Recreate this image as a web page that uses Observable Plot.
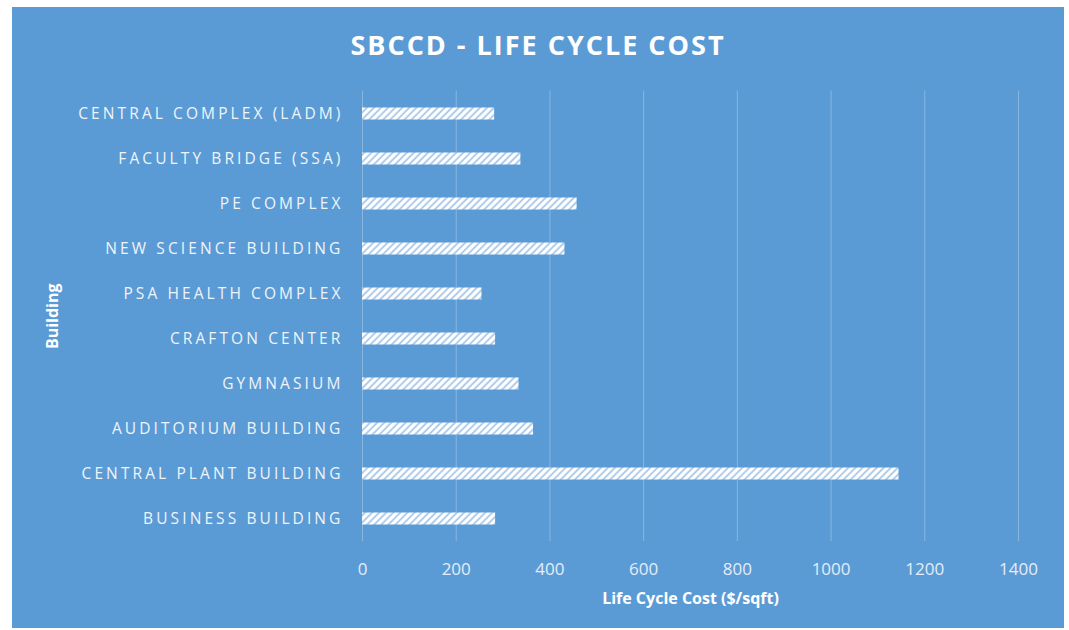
<!DOCTYPE html>
<html>
<head>
<meta charset="utf-8">
<script src="https://cdn.jsdelivr.net/npm/d3@7"></script>
<script src="https://cdn.jsdelivr.net/npm/@observablehq/plot@0.6"></script>
<style>
  html, body { margin: 0; padding: 0; background: #ffffff; }
  #card {
    position: absolute; left: 12px; top: 7px; width: 1052px; height: 621px;
    background: #5B9BD5; overflow: hidden;
  }
  #title {
    position: absolute; left: 0; top: 23px; width: 1052px; text-align: center;
    font-family: "Open Sans", sans-serif; font-weight: 700; font-size: 27px;
    letter-spacing: 2px; color: #ffffff; line-height: 30px;
  }
  #chart { position: absolute; left: 0; top: 68px; }
  #chart svg { background: transparent; overflow: visible; }
  #chart [aria-label="y-axis tick label"] text { letter-spacing: 3.1px; }
</style>
</head>
<body>
<div id="card">
  <div id="title">SBCCD - LIFE CYCLE COST</div>
  <div id="chart"></div>
</div>
<script>
const buildings = [
  "CENTRAL COMPLEX (LADM)",
  "FACULTY BRIDGE (SSA)",
  "PE COMPLEX",
  "NEW SCIENCE BUILDING",
  "PSA HEALTH COMPLEX",
  "CRAFTON CENTER",
  "GYMNASIUM",
  "AUDITORIUM BUILDING",
  "CENTRAL PLANT BUILDING",
  "BUSINESS BUILDING"
];
const costs = [282, 338, 458, 432, 255, 284, 334, 365, 1145, 284];
const xTicks = [0, 200, 400, 600, 800, 1000, 1200, 1400];

const data = buildings.map((b, i) => ({building: b, cost: costs[i]}));

const plot = Plot.plot({
  width: 1052,
  height: 553,
  marginLeft: 350,
  marginRight: 46,
  marginTop: 15.5,
  marginBottom: 87,
  style: {background: "transparent", color: "#ffffff", fontFamily: "'Open Sans', sans-serif"},
  x: {domain: [0, 1400], ticks: xTicks},
  y: {domain: buildings, padding: 0},
  marks: [
    Plot.gridX(xTicks, {stroke: "#ffffff", strokeOpacity: 0.28, strokeWidth: 1}),
    Plot.barX(data, {x: "cost", y: "building", fill: "url(#hatch)", insetTop: 16.5, insetBottom: 16.5}),
    Plot.axisX({
      ticks: xTicks, tickFormat: d => String(d), tickSize: 0, tickPadding: 21, fontSize: 17, fill: "#e4edf7",
      label: "Life Cycle Cost ($/sqft)", labelAnchor: "center", labelArrow: false, labelOffset: 62
    }),
    Plot.axisY({
      tickSize: 0, tickPadding: 19, fontSize: 15.5, fill: "#eef4fa",
      label: "Building", labelAnchor: "center", labelArrow: false, labelOffset: 316
    })
  ]
});

// hatch pattern definition
const svg = d3.select(plot);
const defs = svg.insert("defs", ":first-child");
const pat = defs.append("pattern")
  .attr("id", "hatch")
  .attr("patternUnits", "userSpaceOnUse")
  .attr("width", 5)
  .attr("height", 5)
  .attr("patternTransform", "rotate(45)");
pat.append("rect").attr("width", 5).attr("height", 5).attr("fill", "#a9c9ea");
pat.append("rect").attr("width", 3.2).attr("height", 5).attr("fill", "#ffffff");

// axis label styling
svg.selectAll('[aria-label="x-axis label"] text, [aria-label="y-axis label"] text')
  .attr("font-weight", 700).attr("font-size", 16).attr("fill", "#ffffff");

document.getElementById("chart").appendChild(plot);
</script>
</body>
</html>
